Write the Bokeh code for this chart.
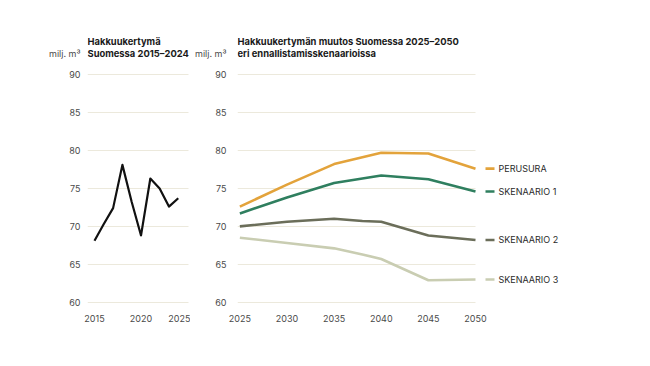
from bokeh.plotting import figure
from bokeh.layouts import row
from bokeh.models import Label, Range1d, FixedTicker
from bokeh.embed import file_html
from bokeh.resources import INLINE

# Historical data
hist_years = [2015, 2016, 2017, 2018, 2019, 2020, 2021, 2022, 2023, 2024]
hist_values = [68.1, 70.3, 72.4, 78.1, 73.2, 68.8, 76.3, 75.0, 72.6, 73.7]

# Scenarios
sc_years = [2025, 2030, 2035, 2038, 2040, 2045, 2050]
perusura = [72.6, 75.5, 78.2, 79.1, 79.7, 79.6, 77.6]
skenaario1 = [71.7, 73.8, 75.7, 76.3, 76.7, 76.2, 74.6]
skenaario2 = [70.0, 70.6, 71.0, 70.7, 70.6, 68.8, 68.2]
skenaario3 = [68.5, 67.8, 67.1, 66.3, 65.7, 62.9, 63.0]

series_names = ["PERUSURA", "SKENAARIO 1", "SKENAARIO 2", "SKENAARIO 3"]
series_values = [perusura, skenaario1, skenaario2, skenaario3]
series_colors = ["#E3A33B", "#2F7F5F", "#6B6E5A", "#C9CDB2"]

y_ticks = [60, 65, 70, 75, 80, 85, 90]
unit_label = "milj. m³"
left_ticks = [2015, 2020, 2025]
right_ticks = [2025, 2030, 2035, 2040, 2045, 2050]
left_title = ["Hakkuukertymä", "Suomessa 2015–2024"]
right_title = ["Hakkuukertymän muutos Suomessa 2025–2050", "eri ennallistamisskenaarioissa"]

FONT = "Inter"
GRID = "#ECE9DC"
TICK_COL = "#4a4a4a"
TITLE_COL = "#1a1a1a"

FRAME_H = 276
YLO, YHI = 59.7, 96.07
PX_PER_Y = FRAME_H / (YHI - YLO)
TITLE_Y1 = 90 + 33 / PX_PER_Y
TITLE_Y2 = 90 + 21 / PX_PER_Y
UNIT_Y = round(TITLE_Y2, 2)


def style(p, xticks, xs, xe):
    p.outline_line_color = None
    p.xgrid.grid_line_color = None
    p.ygrid.ticker = FixedTicker(ticks=y_ticks)
    p.ygrid.grid_line_color = GRID
    p.ygrid.grid_line_width = 1
    p.ygrid.cross_bounds = (xs, xe)
    p.yaxis.ticker = FixedTicker(ticks=y_ticks + [UNIT_Y])
    p.yaxis.major_label_overrides = {UNIT_Y: unit_label}
    p.xaxis.ticker = FixedTicker(ticks=xticks)
    for ax in (p.xaxis[0], p.yaxis[0]):
        ax.axis_line_color = None
        ax.major_tick_line_color = None
        ax.minor_tick_line_color = None
        ax.major_tick_out = 0
        ax.major_tick_in = 0
        ax.minor_tick_out = 0
        ax.minor_tick_in = 0
        ax.major_label_text_font = FONT
        ax.major_label_text_font_size = "9px"
        ax.major_label_text_color = TICK_COL
    p.xaxis.major_label_standoff = 10
    p.background_fill_color = "white"
    p.border_fill_color = "white"


def titles(p, x, lines):
    for yv, txt in zip([TITLE_Y1, TITLE_Y2], lines):
        p.add_layout(Label(x=x, y=yv, text=txt, text_font=FONT, text_font_size="9.4px",
                           text_font_style="bold", text_color=TITLE_COL,
                           text_baseline="middle", text_align="left"))


# Left panel
LXS, LXE = 2014.25, 2025.1
LPX = 101 / (LXE - LXS)
left = figure(width=190, height=350, output_backend="svg", toolbar_location=None,
              x_range=Range1d(LXS, LXE + 2 / LPX), y_range=Range1d(YLO, YHI),
              min_border_left=87, min_border_right=0, min_border_top=28, min_border_bottom=46)
style(left, left_ticks, LXS, LXE)
left.yaxis.major_label_standoff = 7
left.line(hist_years, hist_values, line_color="#111111", line_width=2.2, line_join="round")
titles(left, LXS, left_title)

# Right panel
XS, XE = 2024.75, 2050.0
PX_PER_X = 238 / (XE - XS)
XMAX = XE + 100 / PX_PER_X
right = figure(width=395, height=350, output_backend="svg", toolbar_location=None,
               x_range=Range1d(XS, XMAX), y_range=Range1d(YLO, YHI),
               min_border_left=47, min_border_right=10, min_border_top=28, min_border_bottom=46)
style(right, right_ticks, XS, XE)
right.yaxis.major_label_standoff = 11
for name, vals, col in zip(series_names, series_values, series_colors):
    right.line(sc_years, vals, line_color=col, line_width=2.6, line_join="round")
    yv = vals[-1]
    right.segment(x0=[XE + 10 / PX_PER_X], x1=[XE + 19 / PX_PER_X], y0=[yv], y1=[yv],
                  line_color=col, line_width=2.6)
    right.add_layout(Label(x=XE + 23 / PX_PER_X, y=yv, text=name, text_font=FONT,
                           text_font_size="9px", text_color="#2a2a2a",
                           text_baseline="middle", text_align="left"))
titles(right, XS, right_title)

layout = row(left, right)
open("out.html", "w").write(file_html(layout, INLINE))
